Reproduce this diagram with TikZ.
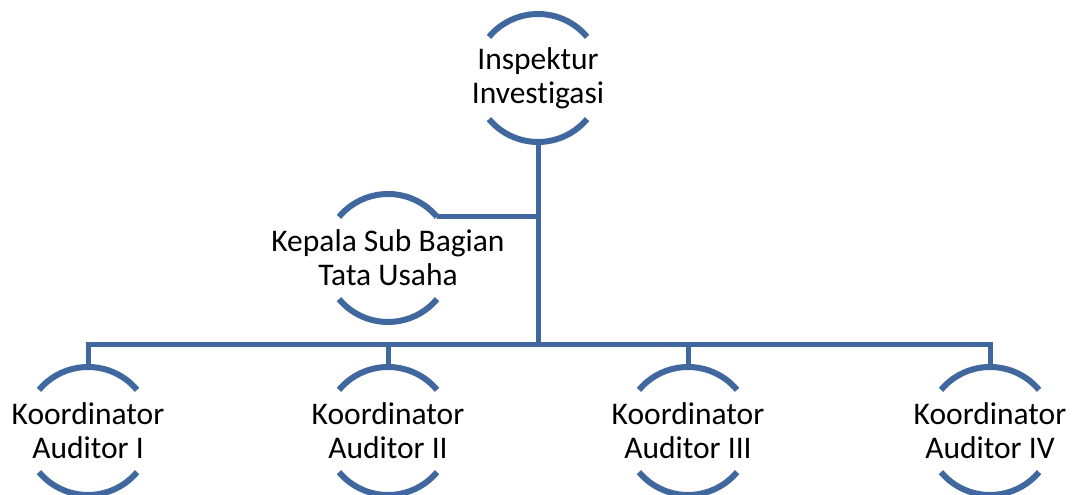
\documentclass[tikz,border=0pt]{standalone}
\usepackage{fontspec}
\setmainfont[RawFeature={-liga;-clig;-calt;-rlig}]{Carlito}
\definecolor{orgblue}{RGB}{64,104,158}

\begin{document}
\begin{tikzpicture}[x=1pt, y=1pt,
    unit/.style = {circle, minimum size = 128pt, inner sep = 0pt, outer sep = 0pt},
    txt/.style = {align=center, font=\fontsize{31.5}{34}\selectfont, text=black},
    ring/.style = {draw=orgblue, line width=6pt},
    link/.style = {draw=orgblue, line width=5pt}]

    \useasboundingbox (0,0) rectangle (1074,495);

    % Head
    \node[unit, label={[txt]center:Inspektur\\Investigasi}] (insp) at (538,417) {};

    % Staff
    \node[unit, label={[txt]center:Kepala Sub Bagian\\Tata Usaha}] (kep) at (388,237) {};

    % Coordinators
    \node[unit, label={[txt]center:Koordinator\\Auditor I}] (k1) at (88,64) {};
    \node[unit, label={[txt]center:Koordinator\\Auditor II}] (k2) at (388,64) {};
    \node[unit, label={[txt]center:Koordinator\\Auditor III}] (k3) at (688,64) {};
    \node[unit, label={[txt]center:Koordinator\\Auditor IV}] (k4) at (990,64) {};

    % Circle arcs
    \foreach \n in {insp, kep, k1, k2, k3, k4} {
        \draw[ring] (\n.40) arc[start angle=40, end angle=140, radius=64pt];
        \draw[ring] (\n.220) arc[start angle=220, end angle=320, radius=64pt];
    }

    % Connectors
    \coordinate (bus) at (538,150);
    \draw[link] (insp.south) -- (bus);
    \draw[link] (kep.40) -- (kep.40 -| bus);
    \draw[link] (k1.north) |- (bus) -| (k4.north);
    \draw[link] (k2.north) -- (k2.north |- bus);
    \draw[link] (k3.north) -- (k3.north |- bus);
\end{tikzpicture}
\end{document}
